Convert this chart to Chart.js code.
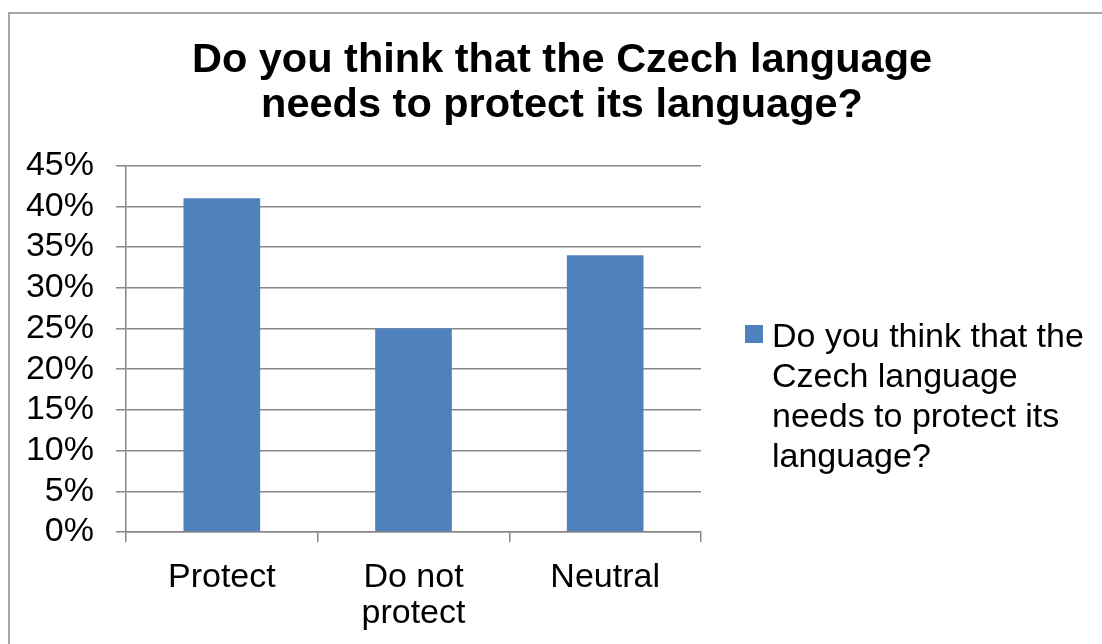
<!DOCTYPE html>
<html>
<head>
<meta charset="utf-8">
<title>Czech language survey</title>
<script src="https://cdn.jsdelivr.net/npm/chart.js@4/dist/chart.umd.min.js"></script>
<style>
  body { margin: 0; background: #fff; }
  #wrap { position: relative; width: 1102px; height: 644px; overflow: hidden; }
  #frame {
    position: absolute; left: 8px; top: 12px; width: 1200px; height: 800px;
    border-left: 2px solid #a6a6a6; border-top: 2px solid #a6a6a6;
  }
  #chart { position: absolute; left: 0; top: 0; }
  #legend {
    position: absolute; left: 745px; top: 315px; width: 356px;
    font-family: "Liberation Sans", Arial, sans-serif; font-size: 34px; line-height: 40px; color: #000;
  }
  #legend .swatch { position: absolute; left: 0; top: 10px; width: 18px; height: 18px; }
  #legend .text { margin-left: 27px; width: 328px; }
</style>
</head>
<body>
<div id="wrap">
  <div id="frame"></div>
  <canvas id="chart" width="1102" height="644"></canvas>
  <div id="legend"></div>
</div>
<script>
// Survey answers
const categories = ['Protect', ['Do not', 'protect'], 'Neutral'];
const seriesName = 'Do you think that the Czech language needs to protect its language?';
const shares = [41, 25, 34];
const titleLines = ['Do you think that the Czech language', 'needs to protect its language?'];
const yMax = 45;
const yStep = 5;

const barColor = '#4f81bd';
const gridColor = '#878787';

Chart.defaults.font.family = '"Liberation Sans", Arial, sans-serif';
Chart.defaults.color = '#000';

const ctx = document.getElementById('chart').getContext('2d');

new Chart(ctx, {
    type: 'bar',
    data: {
        labels: categories,
        datasets: [{
            label: seriesName,
            data: shares,
            backgroundColor: barColor,
            borderWidth: 0,
            barPercentage: 0.4,
            categoryPercentage: 1
        }]
    },
    options: {
        responsive: false,
        animation: false,
        devicePixelRatio: 1,
        layout: { padding: { left: 22, right: 0, top: 0, bottom: 0 } },
        plugins: {
            legend: { display: false },
            tooltip: { enabled: false },
            title: {
                display: true,
                text: titleLines,
                font: { size: 41.5, weight: 'bold', lineHeight: 1.08 },
                color: '#000',
                padding: { top: 38, bottom: 38 }
            }
        },
        scales: {
            x: {
                offset: true,
                grid: {
                    display: true,
                    offset: true,
                    drawOnChartArea: false,
                    drawTicks: true,
                    tickLength: 10,
                    color: gridColor,
                    lineWidth: 1.5
                },
                border: { display: true, color: gridColor, width: 1.5 },
                ticks: {
                    font: { size: 34, lineHeight: 1.06 },
                    padding: 18,
                    maxRotation: 0,
                    autoSkip: false
                },
                afterFit: scale => { scale.height = 112; }
            },
            y: {
                min: 0,
                max: yMax,
                grid: {
                    color: gridColor,
                    lineWidth: 1.5,
                    tickLength: 10
                },
                border: { display: true, color: gridColor, width: 1.5 },
                ticks: {
                    stepSize: yStep,
                    autoSkip: false,
                    font: { size: 34 },
                    padding: 22,
                    callback: v => v + '%'
                },
                afterFit: scale => { scale.width = 104; }
            },
            // empty right-hand axis that keeps room for the legend
            legendSpace: {
                type: 'linear',
                position: 'right',
                display: true,
                grid: { display: false },
                border: { display: false },
                ticks: { display: false },
                afterFit: scale => { scale.width = 401; }
            }
        }
    }
});

// Legend built from the dataset
const legend = document.getElementById('legend');
legend.innerHTML = `
    <div class="swatch" style="background:${barColor}"></div>
    <div class="text">${seriesName}</div>
`;
</script>
</body>
</html>
